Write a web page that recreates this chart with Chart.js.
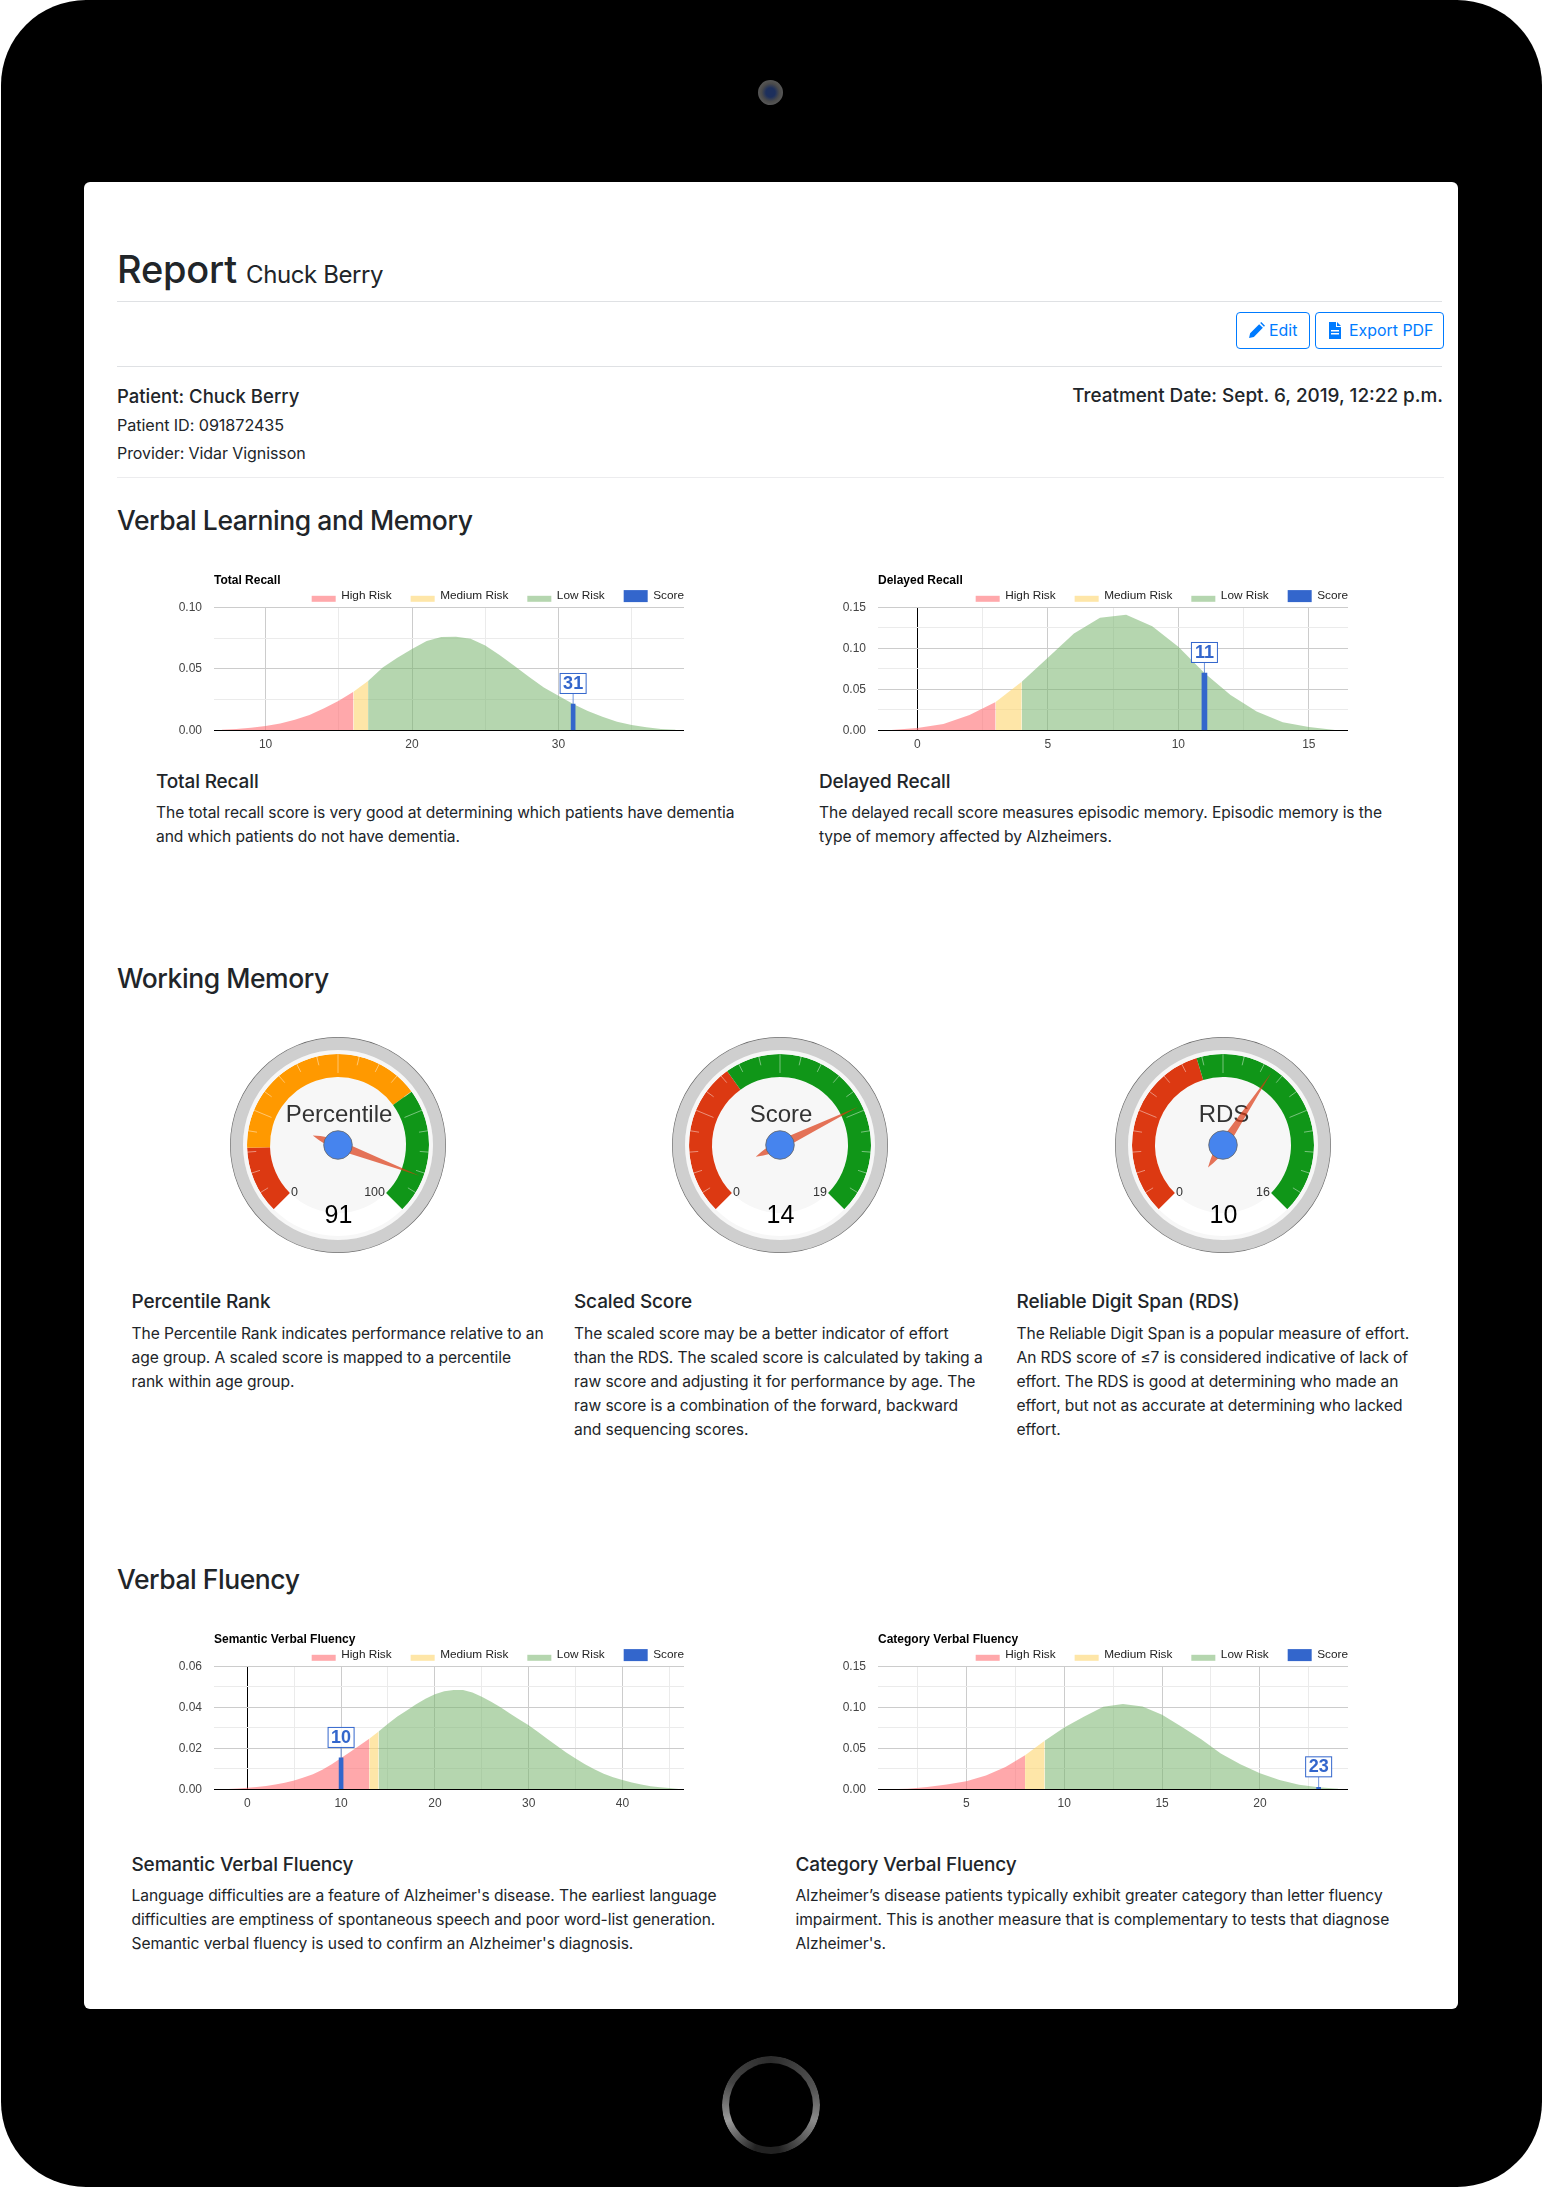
<!DOCTYPE html>
<html>
<head>
<meta charset="utf-8">
<title>Report Chuck Berry</title>
<script src="https://cdn.jsdelivr.net/npm/chart.js@4"></script>
<style>
  html, body { margin: 0; padding: 0; background: #fff; }
  body { width: 1542px; height: 2187px; position: relative; overflow: hidden;
         font-family: Inter, Roboto, sans-serif; color: #212529; }
  .tablet { position: absolute; left: 1px; top: 0; width: 1541px; height: 2187px;
            background: #000; border-radius: 85px; }
  .camera { position: absolute; left: 758px; top: 80px; width: 25px; height: 25px; border-radius: 50%;
            background: radial-gradient(circle at 50% 50%, #1d2f5c 0 26%, #4a4a4a 50%, #5a5a5a 75%, #222 100%); }
  .home { position: absolute; left: 722px; top: 2056px; width: 84px; height: 84px; border-radius: 50%;
          border: 7px solid transparent;
          background: conic-gradient(#2c2c2c 0deg, #555 70deg, #8a8a8a 110deg, #222 170deg, #222 200deg, #9a9a9a 250deg, #444 300deg, #2c2c2c 360deg) border-box;
          -webkit-mask: linear-gradient(#000 0 0) padding-box exclude, linear-gradient(#000 0 0) border-box;
          mask: linear-gradient(#000 0 0) padding-box exclude, linear-gradient(#000 0 0) border-box; }
  .card { position: absolute; left: 84px; top: 182px; width: 1374px; height: 1827px;
          background: #fff; border-radius: 6px; }
  .t { position: absolute; white-space: nowrap; }
  .rule { position: absolute; height: 1px; background: #dfe1e4; }
  .h2 { font-size: 26.5px; font-weight: 500; line-height: 36px; left: 117px; letter-spacing: -0.45px; }
  .h5 { font-size: 19px; font-weight: 500; line-height: 26px; letter-spacing: -0.15px; }
  .p { font-size: 15.6px; line-height: 24px; letter-spacing: -0.08px; }
  .btn { position: absolute; top: 312px; height: 37px; box-sizing: border-box; border: 1px solid #007bff;
         border-radius: 4px; color: #007bff; font-size: 15.9px; line-height: 35px; white-space: nowrap; }
  .btn svg { position: absolute; top: 9px; }
  canvas { position: absolute; }
</style>
</head>
<body>
<div class="tablet"></div>
<div class="camera"></div>
<div class="home"></div>
<div class="card"></div>

<div class="t" style="left:117px;top:244px;font-size:38px;font-weight:500;line-height:50px;letter-spacing:-0.2px">Report</div>
<div class="t" style="left:246px;top:258px;font-size:24px;line-height:34px;letter-spacing:-0.4px">Chuck Berry</div>
<div class="rule" style="left:117px;top:301px;width:1325px"></div>
<div class="btn" style="left:1236px;width:74px;padding-left:32px">
  <svg style="left:11px" width="17" height="17" viewBox="0 0 16 16"><path fill="#007bff" d="M1 15l1-4.5L10.5 2l3.5 3.5L5.5 14zM11.5 1l1-1 3.5 3.5-1 1z"/></svg>Edit</div>
<div class="btn" style="left:1315px;width:129px;padding-left:33px">
  <svg style="left:11px" width="16" height="17" viewBox="0 0 16 17"><path fill="#007bff" d="M2 0h7v5h5v12H2zM10 0l4 4h-4z"/><path fill="#fff" d="M4 8h8v1.5H4zM4 11h8v1.5H4z"/></svg>Export PDF</div>
<div class="rule" style="left:117px;top:366px;width:1325px"></div>

<div class="t" style="left:117px;top:383px;font-size:18.5px;font-weight:500;line-height:26px">Patient: Chuck Berry</div>
<div class="t" style="right:99px;top:383px;font-size:18.9px;font-weight:500;line-height:26px">Treatment Date: Sept. 6, 2019, 12:22 p.m.</div>
<div class="t p" style="left:117px;top:413px;font-size:16.2px">Patient ID: 091872435</div>
<div class="t p" style="left:117px;top:441px;font-size:16px">Provider: Vidar Vignisson</div>
<div class="rule" style="left:117px;top:477px;width:1327px;background:#ececee"></div>

<div class="t h2" style="top:502px">Verbal Learning and Memory</div>
<canvas id="chartTotal" style="left:154px;top:561px"></canvas>
<canvas id="chartDelayed" style="left:818px;top:561px"></canvas>
<div class="t h5" style="left:156px;top:769px">Total Recall</div>
<div class="t p" style="left:156px;top:800.5px">The total recall score is very good at determining which patients have dementia<br>and which patients do not have dementia.</div>
<div class="t h5" style="left:819px;top:769px">Delayed Recall</div>
<div class="t p" style="left:819px;top:800.5px">The delayed recall score measures episodic memory. Episodic memory is the<br>type of memory affected by Alzheimers.</div>

<div class="t h2" style="top:960px">Working Memory</div>
<canvas id="gaugePercentile" style="left:230px;top:1037px"></canvas>
<canvas id="gaugeScore" style="left:672px;top:1037px"></canvas>
<canvas id="gaugeRds" style="left:1115px;top:1037px"></canvas>
<div class="t h5" style="left:131.5px;top:1289px">Percentile Rank</div>
<div class="t p" style="left:131.5px;top:1322px">The Percentile Rank indicates performance relative to an<br>age group. A scaled score is mapped to a percentile<br>rank within age group.</div>
<div class="t h5" style="left:574px;top:1289px">Scaled Score</div>
<div class="t p" style="left:574px;top:1322px">The scaled score may be a better indicator of effort<br>than the RDS. The scaled score is calculated by taking a<br>raw score and adjusting it for performance by age. The<br>raw score is a combination of the forward, backward<br>and sequencing scores.</div>
<div class="t h5" style="left:1016.5px;top:1289px">Reliable Digit Span (RDS)</div>
<div class="t p" style="left:1016.5px;top:1322px">The Reliable Digit Span is a popular measure of effort.<br>An RDS score of ≤7 is considered indicative of lack of<br>effort. The RDS is good at determining who made an<br>effort, but not as accurate at determining who lacked<br>effort.</div>

<div class="t h2" style="top:1561px">Verbal Fluency</div>
<canvas id="chartSemantic" style="left:154px;top:1620px"></canvas>
<canvas id="chartCategory" style="left:818px;top:1620px"></canvas>
<div class="t h5" style="left:131.5px;top:1852px">Semantic Verbal Fluency</div>
<div class="t p" style="left:131.5px;top:1884px">Language difficulties are a feature of Alzheimer's disease. The earliest language<br>difficulties are emptiness of spontaneous speech and poor word-list generation.<br>Semantic verbal fluency is used to confirm an Alzheimer's diagnosis.</div>
<div class="t h5" style="left:795.5px;top:1852px">Category Verbal Fluency</div>
<div class="t p" style="left:795.5px;top:1884px">Alzheimer’s disease patients typically exhibit greater category than letter fluency<br>impairment. This is another measure that is complementary to tests that diagnose<br>Alzheimer's.</div>

<script>
'use strict';

// Legend names shared by the four area charts
const riskNames = ['High Risk', 'Medium Risk', 'Low Risk', 'Score'];

// Total Recall
const totalX = [7, 8, 9, 10, 11, 12, 13, 14, 15, 16, 17, 18, 19, 20, 21, 22, 23, 24, 25, 26, 27, 28, 29, 30, 31, 32, 33, 34, 35, 36, 37, 38];
const totalY = [0.0005, 0.001, 0.002, 0.0035, 0.0055, 0.0085, 0.0125, 0.018, 0.024, 0.0314, 0.04, 0.051, 0.059, 0.066, 0.0726, 0.0759, 0.0761, 0.0745, 0.069, 0.061, 0.0523, 0.0434, 0.0347, 0.028, 0.0214, 0.0157, 0.0111, 0.007, 0.0043, 0.0024, 0.0011, 0.0004];
const totalCuts = [16, 17];
const totalScore = 31;
const totalTicks = [10, 15, 20, 25, 30, 35];

// Delayed Recall
const delayedX = [-1, 0, 1, 2, 3, 4, 5, 6, 7, 8, 9, 10, 11, 12, 13, 14, 15, 16];
const delayedY = [0.0004, 0.0028, 0.0077, 0.0187, 0.0346, 0.0593, 0.0886, 0.118, 0.1374, 0.141, 0.1268, 0.102, 0.0699, 0.0431, 0.0228, 0.0098, 0.0041, 0.0004];
const delayedCuts = [3, 4];
const delayedScore = 11;
const delayedTicks = [0, 2.5, 5, 7.5, 10, 12.5, 15];

// Semantic Verbal Fluency
const semanticX = [-3, -2, -1, 0, 1, 2, 3, 4, 5, 6, 7, 8, 9, 10, 11, 12, 13, 14, 15, 16, 17, 18, 19, 20, 21, 22, 23, 24, 25, 26, 27, 28, 29, 30, 31, 32, 33, 34, 35, 36, 37, 38, 39, 40, 41, 42, 43, 44, 45, 46];
const semanticY = [0.0001, 0.0002, 0.0004, 0.0007, 0.0011, 0.0016, 0.0023, 0.0032, 0.0043, 0.0057, 0.0074, 0.0095, 0.0122, 0.0153, 0.0183, 0.0215, 0.0247, 0.0282, 0.032, 0.0355, 0.0385, 0.0415, 0.0442, 0.0464, 0.0478, 0.0484, 0.0484, 0.0472, 0.0452, 0.0427, 0.04, 0.037, 0.034, 0.0312, 0.028, 0.0245, 0.0212, 0.018, 0.015, 0.0122, 0.0098, 0.0076, 0.0059, 0.0045, 0.0033, 0.0023, 0.0015, 0.001, 0.0006, 0.0002];
const semanticCuts = [13, 14];
const semanticScore = 10;
const semanticTicks = [0, 5, 10, 15, 20, 25, 30, 35, 40, 45];

// Category Verbal Fluency
const categoryX = [1, 2, 3, 4, 5, 6, 7, 8, 9, 10, 11, 12, 13, 14, 15, 16, 17, 18, 19, 20, 21, 22, 23, 24];
const categoryY = [0.0001, 0.0008, 0.0028, 0.006, 0.0098, 0.0167, 0.0273, 0.0416, 0.0591, 0.0754, 0.0885, 0.1007, 0.104, 0.1011, 0.091, 0.0762, 0.0611, 0.0436, 0.0306, 0.0196, 0.0114, 0.0057, 0.0024, 0.0008];
const categoryCuts = [8, 9];
const categoryScore = 23;
const categoryTicks = [2.5, 5, 7.5, 10, 12.5, 15, 17.5, 20, 22.5];

// Gauges: band boundaries and needle values
const percentileStops = [0, 16, 70, 100];
const percentileColors = ['#dc3912', '#ff9900', '#109618'];
const percentileValue = 91;
const scoreStops = [0, 7, 19];
const scoreColors = ['#dc3912', '#109618'];
const scoreValue = 14;
const rdsStops = [0, 7, 16];
const rdsColors = ['#dc3912', '#109618'];
const rdsValue = 10;

const ARIAL = '"Liberation Sans", Arial, sans-serif';

// Title, legend and score flag in the Google Charts look
const areaDecor = {
  id: 'areaDecor',
  afterDraw(chart, args, opts) {
    const ctx = chart.ctx;
    const area = chart.chartArea;
    ctx.save();
    ctx.textBaseline = 'middle';

    ctx.font = 'bold 12px ' + ARIAL;
    ctx.fillStyle = '#000';
    ctx.textAlign = 'left';
    ctx.fillText(opts.title, area.left, area.top - 27);

    // Legend is laid out from the right edge of the plot
    ctx.font = '11.8px ' + ARIAL;
    let right = area.right;
    const legendY = area.top - 11.5;
    const sets = [chart.data.datasets[3], chart.data.datasets[2], chart.data.datasets[1], chart.data.datasets[0]];
    sets.forEach((ds, i) => {
      const w = ctx.measureText(ds.label).width;
      ctx.fillStyle = '#222';
      ctx.fillText(ds.label, right - w, legendY);
      const sx = right - w - 5.5 - 24;
      if (i === 0) {
        ctx.fillStyle = ds.backgroundColor;
        ctx.fillRect(sx, legendY - 5.7, 24, 12);
      } else {
        ctx.fillStyle = ds.backgroundColor;
        ctx.fillRect(sx, legendY, 24, 6);
      }
      right = sx - 19;
    });

    // Score flag above the bar
    const xs = chart.scales.x;
    const ys = chart.scales.y;
    const px = xs.getPixelForValue(opts.score);
    const top = ys.getPixelForValue(opts.scoreY);
    ctx.strokeStyle = '#3366cc';
    ctx.lineWidth = 0.7;
    ctx.beginPath();
    ctx.moveTo(px, top);
    ctx.lineTo(px, top - 10.5);
    ctx.stroke();
    ctx.lineWidth = 1;
    ctx.fillStyle = 'rgba(255,255,255,0.85)';
    ctx.fillRect(px - 13, top - 30.5, 26, 20);
    ctx.strokeRect(px - 13, top - 30.5, 26, 20);
    ctx.fillStyle = '#3366cc';
    ctx.font = 'bold 18px ' + ARIAL;
    ctx.textAlign = 'center';
    ctx.fillText(String(opts.score), px, top - 20);
    ctx.restore();
  },
};

function isMultiple(v, step) {
  return Math.abs(v / step - Math.round(v / step)) < 1e-6;
}

function pick(xs, ys, from, to) {
  const pts = [];
  xs.forEach((x, i) => {
    if (x >= from && x <= to) pts.push({ x, y: ys[i] });
  });
  return pts;
}

function areaChart(id, title, xs, ys, cuts, score, ticks, o) {
  const canvas = document.getElementById(id);
  canvas.width = 560;
  canvas.height = 200;
  const scoreY = ys[xs.indexOf(score)];
  new Chart(canvas, {
    type: 'line',
    plugins: [areaDecor],
    data: {
      datasets: [
        { label: riskNames[0], data: pick(xs, ys, -Infinity, cuts[0]), backgroundColor: 'rgba(255,105,110,0.58)', fill: 'origin', order: 2 },
        { label: riskNames[1], data: pick(xs, ys, cuts[0], cuts[1]), backgroundColor: 'rgba(253,214,110,0.6)', fill: 'origin', order: 2 },
        { label: riskNames[2], data: pick(xs, ys, cuts[1], Infinity), backgroundColor: 'rgba(120,180,110,0.55)', fill: 'origin', order: 2 },
        { type: 'bar', label: riskNames[3], data: [{ x: score, y: scoreY }], backgroundColor: '#3366cc', barThickness: o.barWidth, order: 1 },
      ],
    },
    options: {
      responsive: false,
      animation: false,
      layout: { padding: { left: 0, top: 46.3, right: 30, bottom: 0.7 } },
      elements: { point: { radius: 0 }, line: { borderWidth: 0, tension: 0 } },
      plugins: {
        legend: { display: false },
        tooltip: { enabled: false },
        areaDecor: { title, score, scoreY },
      },
      scales: {
        x: {
          type: 'linear',
          bounds: 'data',
          offset: false,
          min: o.xMin,
          max: o.xMax,
          afterBuildTicks(s) { s.ticks = ticks.map(value => ({ value })); },
          afterFit(s) { s.height = 30; },
          border: { display: false },
          grid: {
            offset: false,
            drawTicks: false,
            color: c => (!c.tick ? '#ccc' : c.tick.value === 0 ? '#000' : isMultiple(c.tick.value, o.xMajor) ? '#cccccc' : '#ebebeb'),
          },
          ticks: {
            autoSkip: false,
            maxRotation: 0,
            padding: 7,
            color: '#444',
            font: { family: ARIAL, size: 12 },
            callback: v => (isMultiple(v, o.xMajor) ? String(v) : ''),
          },
        },
        y: {
          min: 0,
          max: o.yMax,
          afterFit(s) { s.width = 60; },
          border: { display: false },
          grid: {
            drawTicks: false,
            color: c => (!c.tick ? '#ccc' : c.tick.value === 0 ? '#000' : c.index % 2 === 0 ? '#cccccc' : '#ebebeb'),
          },
          ticks: {
            stepSize: o.yStep,
            autoSkip: false,
            padding: 12,
            color: '#444',
            font: { family: ARIAL, size: 12 },
            callback: (v, i) => (i % 2 === 0 ? v.toFixed(2) : ''),
          },
        },
      },
    },
  });
}

areaChart('chartTotal', 'Total Recall', totalX, totalY, totalCuts, totalScore, totalTicks,
  { xMin: 6.48, xMax: 38.57, xMajor: 10, yMax: 0.1, yStep: 0.025, barWidth: 4 });
areaChart('chartDelayed', 'Delayed Recall', delayedX, delayedY, delayedCuts, delayedScore, delayedTicks,
  { xMin: -1.506, xMax: 16.5, xMajor: 5, yMax: 0.15, yStep: 0.025, barWidth: 5 });
areaChart('chartSemantic', 'Semantic Verbal Fluency', semanticX, semanticY, semanticCuts, semanticScore, semanticTicks,
  { xMin: -3.55, xMax: 46.56, xMajor: 10, yMax: 0.06, yStep: 0.01, barWidth: 4 });
areaChart('chartCategory', 'Category Verbal Fluency', categoryX, categoryY, categoryCuts, categoryScore, categoryTicks,
  { xMin: 0.486, xMax: 24.5, xMajor: 5, yMax: 0.15, yStep: 0.025, barWidth: 4 });

// Ticks, captions, needle and hub on top of the doughnut rings
const gaugeDecor = {
  id: 'gaugeDecor',
  afterDraw(chart, args, opts) {
    const ctx = chart.ctx;
    const arc = chart.getDatasetMeta(0).data[0];
    const cx = arc.x;
    const cy = arc.y;
    ctx.save();
    ctx.translate(cx, cy);

    // 20 divisions over 270 degrees, every fifth is a major tick
    ctx.strokeStyle = 'rgba(255,255,255,0.55)';
    ctx.lineWidth = 0.8;
    for (let i = 1; i < 20; i++) {
      const a = (-135 + i * 13.5) * Math.PI / 180;
      const inner = i % 5 === 0 ? 72 : 82;
      ctx.beginPath();
      ctx.moveTo(Math.sin(a) * 91, -Math.cos(a) * 91);
      ctx.lineTo(Math.sin(a) * inner, -Math.cos(a) * inner);
      ctx.stroke();
    }

    ctx.textAlign = 'center';
    ctx.textBaseline = 'middle';
    ctx.fillStyle = '#333';
    ctx.font = '24px ' + ARIAL;
    ctx.fillText(opts.caption, 1, -30);

    ctx.font = '12.5px ' + ARIAL;
    ctx.textAlign = 'left';
    ctx.fillText('0', -47, 48);
    ctx.textAlign = 'right';
    ctx.fillText(String(opts.max), 47, 48);

    ctx.textAlign = 'center';
    ctx.fillStyle = '#000';
    ctx.font = '25px ' + ARIAL;
    ctx.fillText(String(opts.value), 0.5, 71);

    // Needle
    ctx.save();
    ctx.rotate((-135 + opts.value / opts.max * 270) * Math.PI / 180);
    ctx.fillStyle = 'rgba(220,57,18,0.7)';
    ctx.beginPath();
    ctx.moveTo(0, 27);
    ctx.quadraticCurveTo(4.8, 12, 4.8, 0);
    ctx.quadraticCurveTo(2.5, -40, 0, -87);
    ctx.quadraticCurveTo(-2.5, -40, -4.8, 0);
    ctx.quadraticCurveTo(-4.8, 12, 0, 27);
    ctx.fill();
    ctx.restore();

    // Hub
    ctx.fillStyle = '#4684ee';
    ctx.strokeStyle = '#666';
    ctx.lineWidth = 0.8;
    ctx.beginPath();
    ctx.arc(0, 0, 14.3, 0, Math.PI * 2);
    ctx.fill();
    ctx.stroke();
    ctx.restore();
  },
};

function gauge(id, caption, stops, colors, value) {
  const canvas = document.getElementById(id);
  canvas.width = 216;
  canvas.height = 216;
  const bands = colors.map((c, i) => stops[i + 1] - stops[i]);
  const max = stops[stops.length - 1];
  new Chart(canvas, {
    type: 'doughnut',
    plugins: [gaugeDecor],
    data: {
      datasets: [
        { data: [1], backgroundColor: ['#666666'], weight: 0.7 },
        { data: [1], backgroundColor: ['#cfcfcf'], weight: 12.3 },
        { data: [1], backgroundColor: ['#f7f7f7'], weight: 4 },
        { data: bands, backgroundColor: colors, weight: 23, rotation: -135, circumference: 270 },
        { data: [1], backgroundColor: ['#f7f7f7'], weight: 68 },
      ],
    },
    options: {
      responsive: false,
      animation: false,
      cutout: 0,
      borderWidth: 0,
      layout: { padding: 0 },
      plugins: {
        legend: { display: false },
        tooltip: { enabled: false },
        gaugeDecor: { caption, value, max },
      },
    },
  });
}

gauge('gaugePercentile', 'Percentile', percentileStops, percentileColors, percentileValue);
gauge('gaugeScore', 'Score', scoreStops, scoreColors, scoreValue);
gauge('gaugeRds', 'RDS', rdsStops, rdsColors, rdsValue);
</script>
</body>
</html>
